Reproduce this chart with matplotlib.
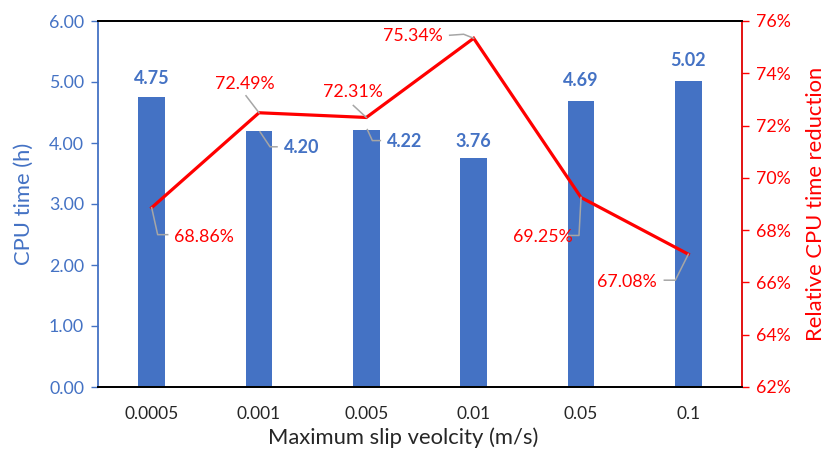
import matplotlib
matplotlib.use("Agg")
import matplotlib.pyplot as plt
from matplotlib.lines import Line2D
from matplotlib.ticker import FuncFormatter, MultipleLocator

# Data
categories = ["0.0005", "0.001", "0.005", "0.01", "0.05", "0.1"]
cpu_time = [4.75, 4.20, 4.22, 3.76, 4.69, 5.02]
reduction = [68.86, 72.49, 72.31, 75.34, 69.25, 67.08]

# Label placement (pixel offsets from the mark, y pointing down) and leader paths
bar_label_offsets = [(0, -19), (43, 17), (38, 12), (0, -16), (0, -20), (0, -20)]
bar_leaders = [None, [(1, 1), (11, 16), (18, 16)], [(1, 0), (6, 11), (14, 11)], None, None, None]
pct_label_offsets = [(52, 29), (-14, -29), (-13, -25), (-61, -2), (-38, 40), (-61, 28)]
pct_leaders = [
    [(0, 0), (6, 27), (16, 27)],
    [(0, 0), (-13, -17)],
    [(0, 0), (-13, -12)],
    [(0, 0), (-10, -4), (-24, -3)],
    [(0, 0), (-2, 38), (-12, 38)],
    [(0, 0), (-13, 26), (-24, 26)],
]

BLUE = "#4472C4"
RED = "#FF0000"
GREY = "#A6A6A6"
FONT = "Lato"

plt.rcParams["font.family"] = [FONT, "DejaVu Sans"]

fig = plt.figure(figsize=(8.25, 4.5), dpi=100)
ax = fig.add_axes([98 / 825, 63 / 450, 644 / 825, 366 / 450])
ax2 = ax.twinx()

x = list(range(len(categories)))
ax.bar(x, cpu_time, width=0.25, color=BLUE, zorder=2)
ax.set_xlim(-0.5, len(categories) - 0.5)
ax.set_ylim(0, 6)
ax.yaxis.set_major_locator(MultipleLocator(1))
ax.yaxis.set_major_formatter(FuncFormatter(lambda v, p: f"{v:.2f}"))

ax2.plot(x, reduction, color=RED, lw=2.3, zorder=3, solid_joinstyle="miter")
ax2.set_ylim(62, 76)
ax2.yaxis.set_major_locator(MultipleLocator(2))
ax2.yaxis.set_major_formatter(FuncFormatter(lambda v, p: f"{v:.0f}%"))

ax.set_xticks(x)
ax.set_xticklabels(categories, fontsize=12.5, color="#262626")
ax.tick_params(axis="x", length=0, pad=14)
ax.tick_params(axis="y", colors=BLUE, labelsize=12.8, length=5, width=1, direction="out", pad=5)
ax2.tick_params(axis="y", colors=RED, labelsize=12.8, length=5, width=1, direction="out", pad=5)

ax.set_xlabel("Maximum slip veolcity (m/s)", fontsize=15.8, color="#262626")
ax.xaxis.set_label_coords(0.4736, -0.11)
ax.set_ylabel("CPU time (h)", fontsize=15.8, color=BLUE, labelpad=11)
ax2.set_ylabel("Relative CPU time reduction", fontsize=15.8, color=RED, labelpad=11)

for a in (ax, ax2):
    a.spines["top"].set_color("black")
    a.spines["bottom"].set_color("black")
    a.spines["left"].set_color(BLUE)
    a.spines["right"].set_color(RED)
    for s in a.spines.values():
        s.set_linewidth(1.3)
ax.spines["right"].set_visible(False)
ax2.spines["left"].set_visible(False)
ax2.spines["right"].set_color("#E00000")

fig.canvas.draw()
inv = fig.transFigure.inverted()


def leader(trans, px, py, path):
    ox, oy = trans.transform((px, py))
    pts = [inv.transform((ox + dx, oy - dy)) for dx, dy in path]
    fig.add_artist(Line2D([p[0] for p in pts], [p[1] for p in pts],
                          transform=fig.transFigure, color=GREY, lw=1.1, zorder=5))


for i, v in enumerate(cpu_time):
    dx, dy = bar_label_offsets[i]
    ax2.annotate(f"{v:.2f}", xy=(i, v), xycoords=ax.transData, xytext=(dx, -dy),
                 textcoords="offset pixels", ha="center", va="center",
                 fontsize=13, fontweight="bold", color=BLUE, zorder=6)
    if bar_leaders[i]:
        leader(ax.transData, i, v, bar_leaders[i])

for i, v in enumerate(reduction):
    dx, dy = pct_label_offsets[i]
    ax2.annotate(f"{v:.2f}%", xy=(i, v), xytext=(dx, -dy),
                 textcoords="offset pixels", ha="center", va="center",
                 fontsize=12.8, color=RED, zorder=6)
    leader(ax2.transData, i, v, pct_leaders[i])

fig.savefig("out.png", dpi=100)
